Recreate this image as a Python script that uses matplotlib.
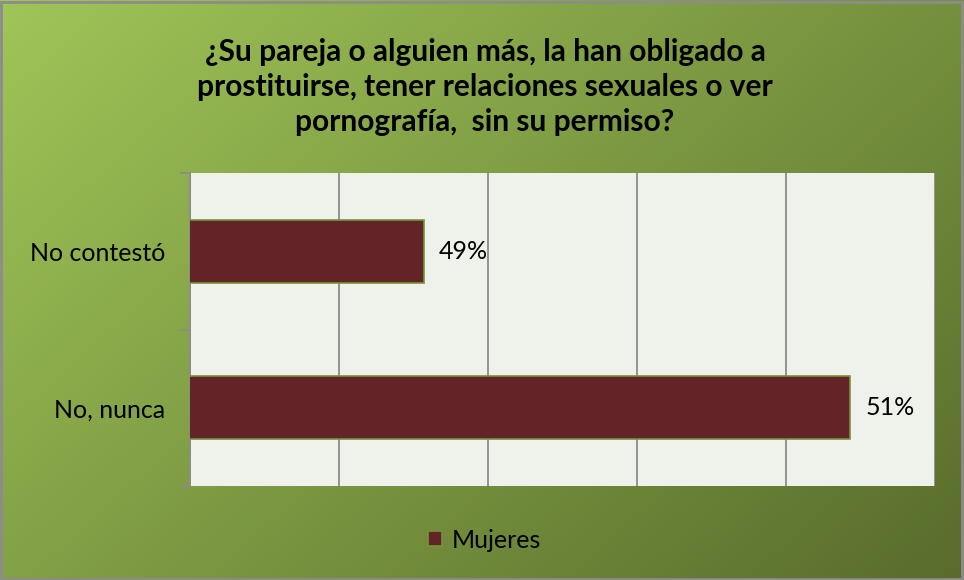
import numpy as np
import matplotlib.pyplot as plt
from matplotlib.patches import Rectangle

# datos
categorias = ['No, nunca', 'No contestó']
valores = [51.43, 48.57]
etiquetas = ['51%', '49%']
serie = 'Mujeres'
titulo = '¿Su pareja o alguien más, la han obligado a\nprostituirse, tener relaciones sexuales o ver\npornografía,  sin su permiso?'

plt.rcParams['font.family'] = ['Lato', 'DejaVu Sans']

W, H = 964, 580
fig = plt.figure(figsize=(W / 100, H / 100), dpi=100)

# fondo degradado verde
bg = fig.add_axes([0, 0, 1, 1], zorder=0)
c1 = np.array([160, 197, 88]) / 255
c2 = np.array([88, 108, 44]) / 255
yy, xx = np.mgrid[0:1:200j, 0:1:300j]
t = (xx * 0.6 + yy * 0.4)
img = c1[None, None, :] * (1 - t[..., None]) + c2[None, None, :] * t[..., None]
bg.imshow(img, extent=[0, 1, 0, 1], aspect='auto', origin='upper')
bg.add_patch(Rectangle((0.001, 0.002), 0.997, 0.995, fill=False, edgecolor='#8c8c8c', lw=2))
bg.set_xlim(0, 1)
bg.set_ylim(0, 1)
bg.axis('off')

ax = fig.add_axes([190 / W, 1 - 486 / H, 745 / W, 313 / H], zorder=1)
ax.set_facecolor('#eff2ea')
y = np.arange(len(categorias))
barras = ax.barh(y, valores, height=0.4, color='#632427', edgecolor='#77933c', lw=1.2, zorder=3)
ax.set_xlim(47, 52)
ax.set_ylim(-0.5, 1.5)
ax.set_xticks(np.arange(47, 53, 1))
ax.xaxis.grid(True, color='#8c8c8c', lw=1.3, zorder=1)
ax.tick_params(axis='x', length=0, labelbottom=False)
ax.set_yticks([-0.5, 0.5, 1.5], minor=False)
ax.set_yticklabels([])
ax.set_yticks(y, minor=True)
ax.set_yticklabels(categorias, minor=True, fontsize=18)
ax.tick_params(axis='y', which='major', length=7, color='#8c8c8c', width=1.3)
ax.tick_params(axis='y', which='minor', length=0, pad=18)
for s in ['top', 'right', 'bottom']:
    ax.spines[s].set_visible(False)
ax.spines['left'].set_color('#8c8c8c')
ax.spines['left'].set_linewidth(1.3)

for b, lab in zip(barras, etiquetas):
    ax.annotate(lab, (b.get_width(), b.get_y() + b.get_height() / 2), xytext=(11, 0),
                textcoords='offset points', va='center', ha='left', fontsize=18)

fig.text(485 / W, 1 - 87 / H, titulo, ha='center', va='center', fontsize=21.5,
         fontweight='bold', linespacing=1.3)

leg = ax.legend([barras[0]], [serie], loc='center', bbox_to_anchor=(485 / W, 1 - 540 / H),
                bbox_transform=fig.transFigure, frameon=False, fontsize=18,
                handlelength=0.55, handleheight=0.55, handletextpad=0.4)

fig.savefig('out.png', dpi=100)
